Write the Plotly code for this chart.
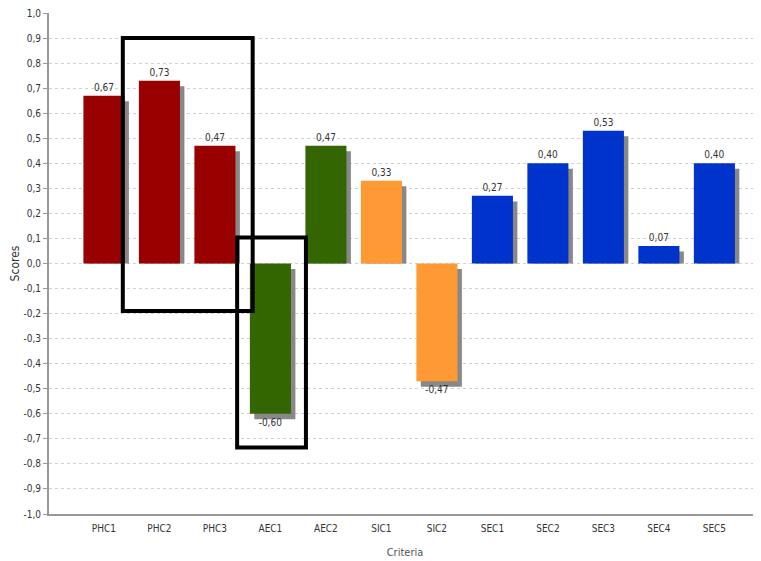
import plotly.graph_objects as go

categories = ["PHC1", "PHC2", "PHC3", "AEC1", "AEC2", "SIC1", "SIC2",
              "SEC1", "SEC2", "SEC3", "SEC4", "SEC5"]
scores = [0.67, 0.73, 0.47, -0.60, 0.47, 0.33, -0.47, 0.27, 0.40, 0.53, 0.07, 0.40]
bar_colors = ["#990000", "#990000", "#990000", "#336600", "#336600",
              "#FF9933", "#FF9933", "#0033CC", "#0033CC", "#0033CC", "#0033CC", "#0033CC"]
y_ticks = [round(-1 + 0.1 * i, 1) for i in range(21)]

FONT = "DejaVu Sans Condensed, Liberation Sans Narrow, Liberation Sans, sans-serif"
x_idx = list(range(len(categories)))
W = 0.74
DROP = 0.022  # shadow drop in data units

# shadow: hidden behind the bar above zero, extends below negative bars
shadow_base = [0 if v > 0 else -DROP for v in scores]
shadow_len = [v - DROP if v > 0 else v for v in scores]

fig = go.Figure()
fig.add_trace(go.Bar(
    x=x_idx, y=shadow_len, base=shadow_base, width=W, offset=-W / 2 + 0.08,
    marker=dict(color="#888888", line=dict(width=0)),
    hoverinfo="skip", showlegend=False))
fig.add_trace(go.Bar(
    x=x_idx, y=scores, width=W, offset=-W / 2,
    marker=dict(color=bar_colors, line=dict(width=0)),
    text=[f"{v:.2f}".replace(".", ",") for v in scores],
    textposition="outside", cliponaxis=False,
    textfont=dict(family=FONT, size=10, color="#333333"),
    showlegend=False))

# highlight boxes
fig.add_shape(type="rect", x0=0.34, x1=2.68, y0=-0.19, y1=0.90,
              line=dict(color="black", width=4), fillcolor="rgba(0,0,0,0)")
fig.add_shape(type="rect", x0=2.40, x1=3.64, y0=-0.735, y1=0.104,
              line=dict(color="black", width=4), fillcolor="rgba(0,0,0,0)")

fig.update_layout(
    width=753, height=553,
    margin=dict(l=41, r=0, t=5, b=47),
    paper_bgcolor="white", plot_bgcolor="white",
    barmode="overlay",
    font=dict(family=FONT, size=10, color="#333333"),
    xaxis=dict(
        range=[-0.99, 11.84], tickmode="array", tickvals=x_idx, ticktext=categories,
        showgrid=False, zeroline=False, showline=True, linecolor="#999999", linewidth=2,
        ticks="", tickfont=dict(size=10, color="#333333"), automargin=False,
        ticklabelstandoff=4,
        title=dict(text="Criteria", font=dict(size=11, color="#555555")),
    ),
    yaxis=dict(
        range=[-1.0, 1.0], tickmode="array", tickvals=y_ticks,
        ticktext=[f"{v:.1f}".replace(".", ",") for v in y_ticks],
        showgrid=True, gridcolor="#d0d0d0", griddash="dot", gridwidth=1,
        zeroline=False, showline=True, linecolor="#999999", linewidth=2,
        ticks="outside", ticklen=4, tickcolor="#999999", automargin=False,
        ticklabeloverflow="allow",
        tickfont=dict(size=10, color="#333333"),
        title=dict(text="Scores", font=dict(size=12, color="#333333")),
    ),
)

fig.write_html("out.html")
